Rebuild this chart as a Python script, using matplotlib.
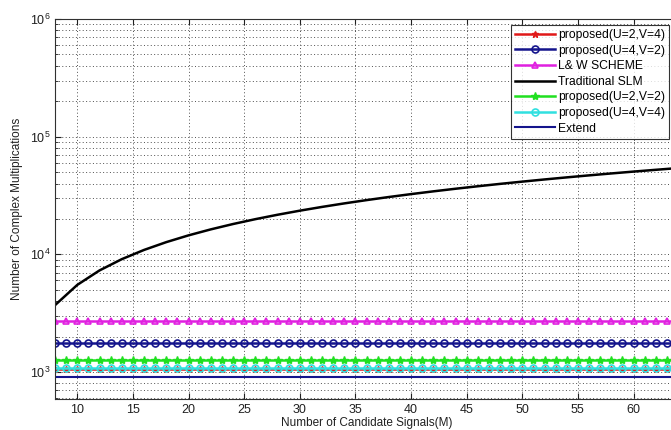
import matplotlib
matplotlib.use('Agg')
import matplotlib.pyplot as plt
from matplotlib.ticker import LogLocator, NullFormatter

plt.rcParams['font.family'] = ['Liberation Sans', 'DejaVu Sans']
plt.rcParams['mathtext.fontset'] = 'custom'
plt.rcParams['mathtext.rm'] = 'Liberation Sans'
plt.rcParams['mathtext.it'] = 'Liberation Sans'

# candidate signals M
M = list(range(8, 65))

# Traditional SLM (every 2 M, 8..64)
M_slm = [8, 10, 12, 14, 16, 18, 20, 22, 24, 26, 28, 30, 32, 34, 36, 38, 40,
         42, 44, 46, 48, 50, 52, 54, 56, 58, 60, 62, 64]
slm = [3700, 5500, 7300, 9100, 10900, 12700, 14500, 16300, 18100, 19900,
       21700, 23500, 25300, 27100, 28900, 30700, 32500, 34300, 36100, 37900,
       39700, 41500, 43300, 45100, 46900, 48700, 50500, 52300, 54100]

# flat curves (constant over M)
p_u2v4 = 1060
p_u4v2 = 1780
lw_scheme = 2700
p_u2v2 = 1270
p_u4v4 = 1090
extend = 900

fig = plt.figure(figsize=(6.71, 4.30), dpi=100)
ax = fig.add_axes([55 / 671, 31 / 430, 623 / 671, 380 / 430])

ax.plot(M, [p_u2v4] * len(M), color='#e01818', marker='*', ms=5, lw=1.8,
        label='proposed(U=2,V=4)')
ax.plot(M, [p_u4v2] * len(M), color='#14148c', marker='o', ms=5, mfc='none',
        mew=1.2, lw=1.8, label='proposed(U=4,V=2)')
ax.plot(M, [lw_scheme] * len(M), color='#e020e0', marker='^', ms=5, mfc='none',
        mew=1.2, lw=1.8, label='L& W SCHEME')
ax.plot(M_slm, slm, color='black', lw=1.8, label='Traditional SLM')
ax.plot(M, [p_u2v2] * len(M), color='#20e020', marker='*', ms=6, lw=1.8,
        label='proposed(U=2,V=2)')
ax.plot(M, [p_u4v4] * len(M), color='#30e0e0', marker='o', ms=5, mfc='none',
        mew=1.2, lw=1.8, label='proposed(U=4,V=4)')
ax.plot(M, [extend] * len(M), color='#14148c', lw=1.5, label='Extend')

ax.set_yscale('log')
ax.set_xlim(8, 64)
ax.set_ylim(590, 1e6)
ax.set_xticks(range(10, 65, 5))
ax.yaxis.set_major_locator(LogLocator(base=10, numticks=10))
ax.yaxis.set_minor_locator(LogLocator(base=10, subs=range(2, 10), numticks=20))
ax.yaxis.set_minor_formatter(NullFormatter())

dots = (0, (1, 2.5))
ax.grid(True, which='major', linestyle=dots, color='#505050', lw=0.7)
ax.grid(True, which='minor', axis='y', linestyle=dots, color='#505050', lw=0.7)
ax.tick_params(which='both', direction='in', top=True, right=True,
               labelsize=9, colors='#202020')
ax.tick_params(which='major', length=4)
ax.tick_params(which='minor', length=2)
for s in ax.spines.values():
    s.set_color('#303030')

ax.set_xlabel('Number of Candidate Signals(M)', fontsize=8.5, labelpad=1,
              color='#202020')
ax.set_ylabel('Number of Complex Multiplications', fontsize=8.5, labelpad=5,
              color='#202020')

leg = ax.legend(loc='upper right', bbox_to_anchor=(0.9856, 0.985), fontsize=8.7,
                frameon=True, fancybox=False, edgecolor='black',
                handlelength=3.3, handletextpad=0.25, labelspacing=0.3,
                borderpad=0.35, borderaxespad=0)
leg.get_frame().set_linewidth(0.8)

fig.savefig('out.png', dpi=100)
